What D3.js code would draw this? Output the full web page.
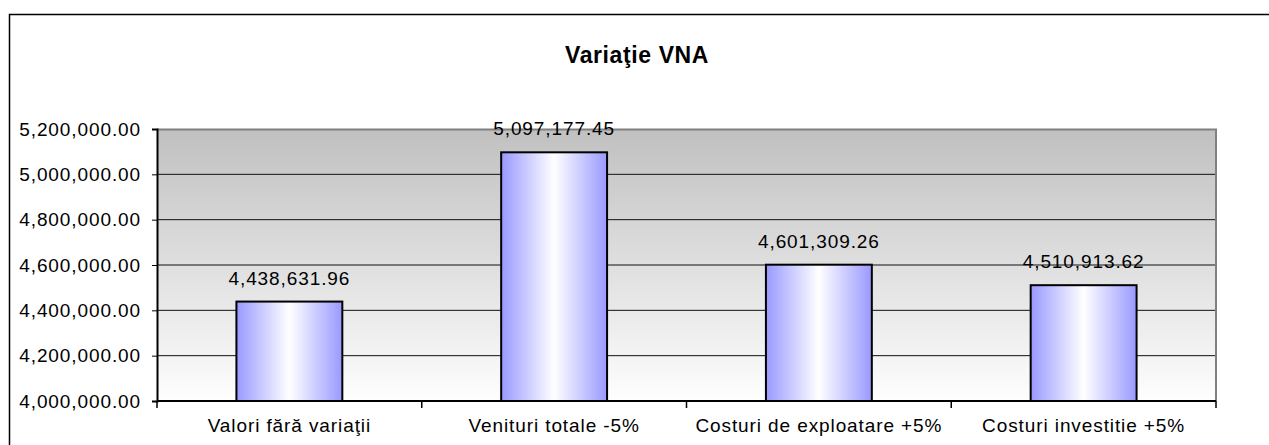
<!DOCTYPE html>
<html>
<head>
<meta charset="utf-8">
<script src="https://cdn.jsdelivr.net/npm/d3@7"></script>
<style>
  body { margin: 0; background: #fff; }
  svg { display: block; font-family: "Liberation Sans", Arial, sans-serif; }
  .tick-label { font-size: 19px; letter-spacing: 0.9px; fill: #000; }
  .title { font-size: 23px; font-weight: bold; letter-spacing: 0.6px; }
</style>
</head>
<body>
<svg id="chart" width="1269" height="445"></svg>
<script>
const title = 'Variaţie VNA'
const categories = ['Valori fără variaţii', 'Venituri totale -5%', 'Costuri de exploatare +5%', 'Costuri investitie +5%']
const values = [4438631.96, 5097177.45, 4601309.26, 4510913.62]
const yTicks = [4000000, 4200000, 4400000, 4600000, 4800000, 5000000, 5200000]

let svg = d3.select('#chart')
let defs = svg.append('defs')

// plot area bounds
let plotLeft = 157, plotRight = 1216, plotTop = 129, plotBottom = 401

let bg = defs.append('linearGradient')
  .attr('id', 'bg').attr('x1', 0).attr('y1', 0).attr('x2', 0).attr('y2', 1)
bg.append('stop').attr('offset', '0%').attr('stop-color', '#c0c0c0')
bg.append('stop').attr('offset', '100%').attr('stop-color', '#fefefe')

let barGrad = defs.append('linearGradient')
  .attr('id', 'bar').attr('x1', 0).attr('y1', 0).attr('x2', 1).attr('y2', 0)
barGrad.append('stop').attr('offset', '0%').attr('stop-color', '#9999ff')
barGrad.append('stop').attr('offset', '50%').attr('stop-color', '#ffffff')
barGrad.append('stop').attr('offset', '100%').attr('stop-color', '#9999ff')

// outer chart frame
svg.append('rect')
  .attr('x', 9.5).attr('y', 14.5)
  .attr('width', 1400).attr('height', 600)
  .attr('fill', '#fff').attr('stroke', '#000').attr('stroke-width', 1.5)

svg.append('text')
  .classed('title', true)
  .attr('x', 637).attr('y', 63)
  .attr('text-anchor', 'middle')
  .text(title)

let x = d3.scaleBand()
  .domain(categories)
  .range([plotLeft, plotRight])
  .paddingInner(0.6)
  .paddingOuter(0.3)

let y = d3.scaleLinear()
  .domain([4000000, 5200000])
  .range([plotBottom, plotTop])

svg.append('rect')
  .attr('x', plotLeft).attr('y', plotTop)
  .attr('width', plotRight - plotLeft).attr('height', plotBottom - plotTop)
  .attr('fill', 'url(#bg)')

// gridlines
svg.selectAll('.grid')
  .data(yTicks.slice(1, -1))
  .enter()
  .append('line')
  .attr('x1', plotLeft).attr('x2', plotRight)
  .attr('y1', d => y(d)).attr('y2', d => y(d))
  .attr('stroke', '#111').attr('stroke-width', 1)

// grey top and right border
svg.append('path')
  .attr('d', `M${plotLeft},${plotTop + 0.5}H${plotRight}V${plotBottom}`)
  .attr('fill', 'none').attr('stroke', '#808080').attr('stroke-width', 2)

// bars
svg.selectAll('.bar')
  .data(values)
  .enter()
  .append('rect')
  .attr('x', (d, i) => x(categories[i]))
  .attr('y', d => y(d))
  .attr('width', x.bandwidth())
  .attr('height', d => plotBottom - y(d))
  .attr('fill', 'url(#bar)')
  .attr('stroke', '#000').attr('stroke-width', 2)

// value labels
svg.selectAll('.value')
  .data(values)
  .enter()
  .append('text')
  .classed('tick-label', true)
  .attr('x', (d, i) => x(categories[i]) + x.bandwidth() / 2)
  .attr('y', d => y(d) - 17)
  .attr('text-anchor', 'middle')
  .text(d => d3.format(',.2f')(d))

// y axis
let yAxis = svg.append('g')
  .attr('transform', `translate(${plotLeft},0)`)
  .call(d3.axisLeft(y).tickValues(yTicks).tickFormat(d3.format(',.2f')).tickSize(5).tickPadding(11))
yAxis.select('.domain').attr('stroke', '#000').attr('stroke-width', 2)
yAxis.selectAll('.tick line').attr('stroke', '#000')
yAxis.selectAll('.tick text')
  .classed('tick-label', true)
  .attr('font-size', null).attr('font-family', null)
yAxis.attr('font-size', null).attr('font-family', null)

// x axis with ticks on category boundaries
let gap = x.step() - x.bandwidth()
let bounds = categories.map(c => x(c) - gap / 2).concat([plotRight])
svg.append('line')
  .attr('x1', plotLeft).attr('x2', plotRight)
  .attr('y1', plotBottom).attr('y2', plotBottom)
  .attr('stroke', '#000').attr('stroke-width', 2)
svg.selectAll('.xtick')
  .data(bounds)
  .enter()
  .append('line')
  .attr('x1', d => d).attr('x2', d => d)
  .attr('y1', plotBottom).attr('y2', plotBottom + 7)
  .attr('stroke', '#000').attr('stroke-width', 1.5)

svg.selectAll('.xlabel')
  .data(categories)
  .enter()
  .append('text')
  .classed('tick-label', true)
  .attr('x', d => x(d) + x.bandwidth() / 2)
  .attr('y', 432)
  .attr('text-anchor', 'middle')
  .text(d => d)
</script>
</body>
</html>
